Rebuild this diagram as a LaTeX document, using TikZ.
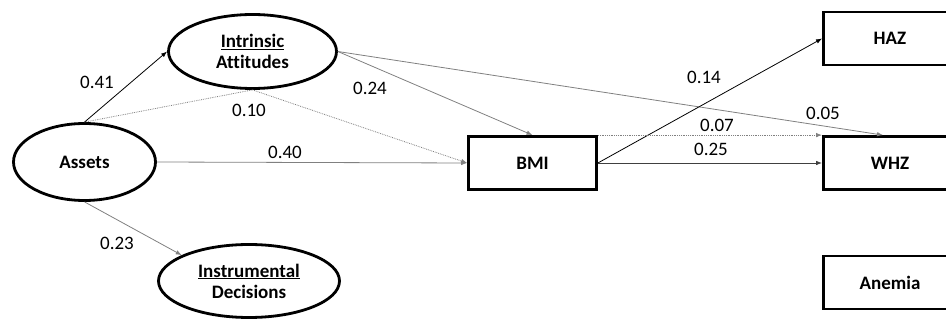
\documentclass[tikz,border=0pt]{standalone}
\usepackage{fontspec}
\setmainfont[Ligatures=NoCommon]{Carlito}
\usetikzlibrary{shapes.geometric,arrows.meta}
\tikzset{
  latent/.style={draw, ellipse, line width=2.8pt, inner sep=0pt, align=center,
    font=\bfseries\fontsize{19}{21}\selectfont},
  obs/.style={draw, rectangle, line width=2.8pt, inner sep=0pt,
    minimum height=53pt, font=\bfseries\fontsize{19}{21}\selectfont},
  link/.style={-{Latex[length=6pt,width=4.5pt]}, line width=0.8pt},
  coef/.style={font=\fontsize{19}{21}\selectfont},
}
\begin{document}
\begin{tikzpicture}[x=1pt,y=-1pt]
\useasboundingbox (0,0) rectangle (946,320);
% latent constructs
\node[latent, minimum width=142pt, minimum height=77pt] (assets) at (84.5,162) {Assets};
\node[latent, minimum width=168pt, minimum height=74pt] (intr) at (252.5,51.5) {\underline{Intrinsic}\\Attitudes};
\node[latent, minimum width=181pt, minimum height=73pt] (instr) at (249,281) {\underline{Instrumental}\\Decisions};
% observed outcomes
\node[obs, minimum width=128pt] (bmi) at (532.5,163) {BMI};
\node[obs, minimum width=133pt] (haz) at (890,38.5) {HAZ};
\node[obs, minimum width=133pt] (whz) at (890,163) {WHZ};
\node[obs, minimum width=133pt] (anemia) at (890,282.5) {Anemia};
% paths
\draw[link] (assets.north) -- (intr.west);
\draw[link, gray, densely dotted] (assets.north) -- (intr.south) -- (bmi.west);
\draw[link, gray] (assets.east) -- (bmi.west);
\draw[link, gray] (assets.south) -- (instr.159);
\draw[link, gray] (intr.east) -- (bmi.north);
\draw[link, gray] (intr.east) -- ([xshift=-7pt]whz.north);
\draw[link] (bmi.east) -- (haz.west);
\draw[link, gray, densely dotted] (bmi.north east) -- (whz.north west);
\draw[link, black!75] (bmi.east) -- (whz.west);
% coefficients
\draw (97,82) node[coef]{0.41};
\draw (249,110) node[coef]{0.10};
\draw (370,88) node[coef]{0.24};
\draw (285,152) node[coef]{0.40};
\draw (117,243) node[coef]{0.23};
\draw (704,77) node[coef]{0.14};
\draw (823,113) node[coef]{0.05};
\draw (717,125) node[coef]{0.07};
\draw (711,149) node[coef]{0.25};
\end{tikzpicture}
\end{document}
